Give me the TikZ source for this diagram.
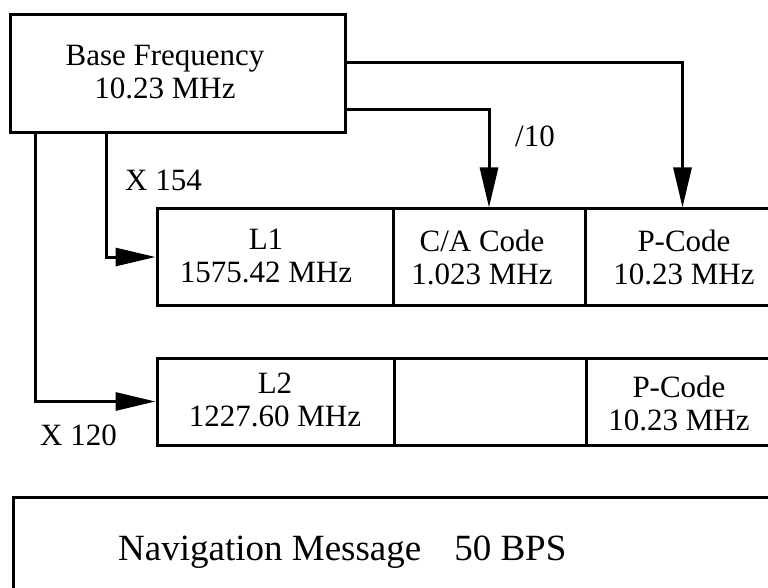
\documentclass[tikz,border=0pt]{standalone}
\usepackage{fontspec}
\setmainfont{Liberation Serif}
\usetikzlibrary{arrows.meta}

\tikzset{
  wire/.style={line width=3pt},
  arr/.style={wire, -{Triangle[length=40pt,width=18pt]}},
  cell/.style={draw, line width=3pt, rectangle, inner sep=0pt},
  txt/.style={align=center, inner sep=0pt, font=\fontsize{31}{33}\selectfont},
  lbl/.style={anchor=base west, inner sep=0pt, font=\fontsize{31}{33}\selectfont},
}

\begin{document}
\begin{tikzpicture}[x=1pt, y=-1pt]
  \useasboundingbox (0,0) rectangle (768,588);
  \clip (0,0) rectangle (768,588);

  % oscillator box
  \node[cell, minimum width=335pt, minimum height=118pt] (base) at (177.5,74) {};
  \node[txt] (basetxt) at (165,72) {Base Frequency\\10.23 MHz};

  % L1 carrier row
  \node[cell, minimum width=236pt, minimum height=96pt] (l1) at (275,257) {};
  \node[cell, minimum width=192pt, minimum height=96pt] (ca) at (489,257) {};
  \node[cell, minimum width=195pt, minimum height=96pt] (pc1) at (682.5,257) {};
  \node[txt] (l1txt) at (266,255.5) {L1\\1575.42 MHz};
  \node[txt] (catxt) at (482,257) {C/A Code\\1.023 MHz};
  \node[txt] (pc1txt) at (684,257) {P-Code\\10.23 MHz};

  % L2 carrier row
  \node[cell, minimum width=237pt, minimum height=87pt] (l2) at (275.5,401.5) {};
  \node[cell, minimum width=192pt, minimum height=87pt] (empty) at (490,401.5) {};
  \node[cell, minimum width=194pt, minimum height=87pt] (pc2) at (683,401.5) {};
  \node[txt] (l2txt) at (275,400) {L2\\1227.60 MHz};
  \node[txt] (pc2txt) at (679,403) {P-Code\\10.23 MHz};

  % navigation message
  \node[cell, minimum width=787pt, minimum height=143pt] (nav) at (406.5,568.5) {};
  \node[anchor=base west, inner sep=0pt, font=\fontsize{37}{40}\selectfont] (navtxt)
    at (118,560) {Navigation Message\hspace{33pt}50 BPS};

  % connectors
  \draw[arr] ([yshift=11pt]base.east) -| (pc1.north);
  \draw[arr] ([yshift=-36pt]base.east) -| (ca.north);
  \draw[arr] ([xshift=98pt]base.south west) |- (l1.west);
  \draw[arr] ([xshift=27pt]base.south west) |- (l2.west);

  % multiplier and divider labels
  \node[lbl] (x154) at (125,190) {X 154};
  \node[lbl] (div10) at (515,147) {/10};
  \node[lbl] (x120) at (40,445) {X 120};
\end{tikzpicture}
\end{document}
